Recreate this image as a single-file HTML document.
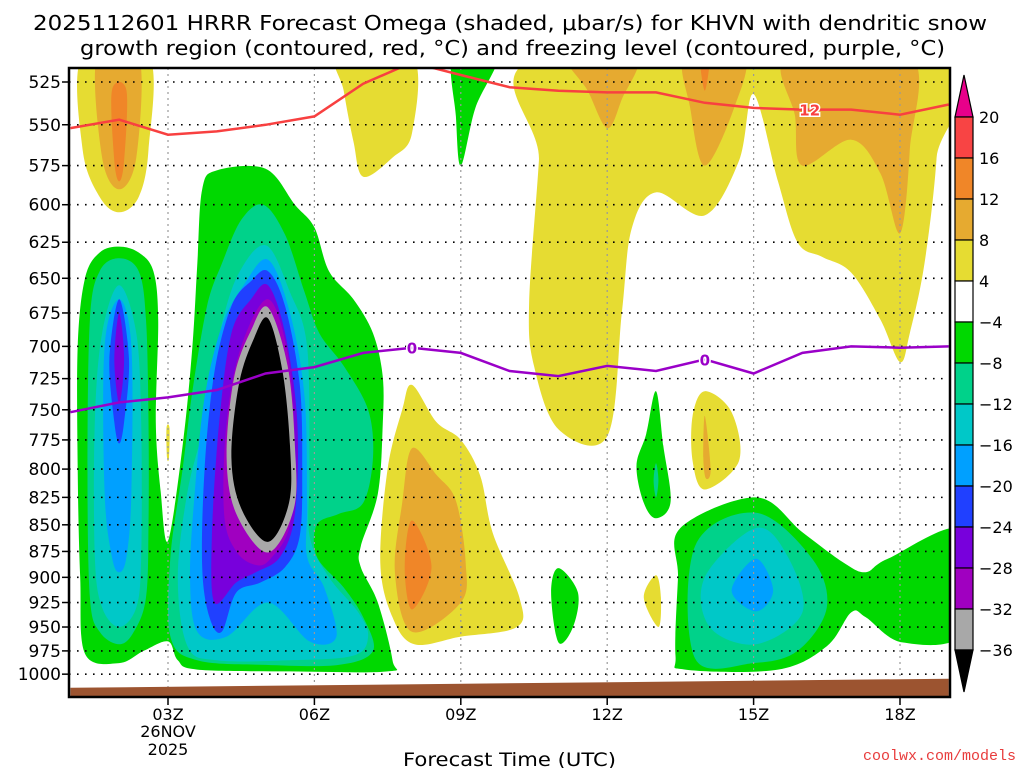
<!DOCTYPE html>
<html><head><meta charset="utf-8">
<style>
html,body{margin:0;padding:0;background:#fff;}
svg{display:block;font-family:"DejaVu Sans","Liberation Sans",sans-serif;}
</style></head>
<body>
<svg id="chart" width="1024" height="768" viewBox="0 0 1024 768">
<text x="33" y="30" textLength="954" lengthAdjust="spacingAndGlyphs" font-size="20" fill="#000">2025112601 HRRR Forecast Omega (shaded, μbar/s) for KHVN with dendritic snow</text>
<text x="80" y="55" textLength="865" lengthAdjust="spacingAndGlyphs" font-size="20" fill="#000">growth region (contoured, red, °C) and freezing level (contoured, purple, °C)</text>
<defs><clipPath id="plotclip"><rect x="69" y="68" width="881" height="629"/></clipPath></defs>
<g id="shading" clip-path="url(#plotclip)"></g>
<g id="grid"></g>
<g id="lines" clip-path="url(#plotclip)"></g>
<g id="axes"></g>
<g id="colorbar"></g>
<text x="403" y="766" textLength="213" lengthAdjust="spacingAndGlyphs" font-size="19" fill="#000">Forecast Time (UTC)</text>
<text x="1016" y="760" text-anchor="end" font-size="15" fill="#e83c3c" font-family="Liberation Mono, monospace">coolwx.com/models</text>
</svg>
<script>
// ---- axes data ----
const pressureTicks = [525,550,575,600,625,650,675,700,725,750,775,800,825,850,875,900,925,950,975,1000];
const timeTickHours = [3,6,9,12,15,18];
const timeTickLabels = ["03Z","06Z","09Z","12Z","15Z","18Z"];
const colorLevels = [20,16,12,8,4,-4,-8,-12,-16,-20,-24,-28,-32,-36];
const levelColors = ["#f84444","#f08628","#e6aa30","#e6dc32","#ffffff","#00d800","#00d28a","#00c8c8","#00a0ff","#2040ff","#7800dc","#a000c0","#a8a8a8"];
// ---- line data (hourly 01Z..19Z) ----
const lineHours = [1,2,3,4,5,6,7,8,9,10,11,12,13,14,15,16,17,18,19];
const dgzTop = [552,547,556,554,550,545,526,514,521,528,530,531,531,537,540,541,541,544,538];
const freezingLevel = [752,744,740,734,721,716,705,701,705,719,723,715,719,710,721,705,700,701,700];
const surfaceHours = [1,19];
const surfacePressure = [1015,1005];
// ---- shaded omega regions [hour, hPa] ----
const ylwTopLeft = [[1.25,510],[2.6,510],[2.6,565],[2.4,595],[2.0,605],[1.6,595],[1.25,565]];
const goldTopLeft = [[1.55,510],[2.4,510],[2.35,570],[2.0,590],[1.65,570]];
const orgTopLeft = [[1.85,530],[2.15,530],[2.1,572],[2.0,585],[1.9,572]];
const ylwTopMid = [[6.5,510],[8.0,510],[8.0,555],[7.6,570],[7.0,582],[6.8,560],[6.6,530]];
const grnSliver = [[8.85,510],[9.75,510],[9.3,540],[9.0,575],[8.9,545]];
const ylwRight = [[10.7,510],[18.8,510],[18.75,570],[18.5,640],[18.2,690],[18.0,712],[17.6,680],[17.0,646],[16.4,635],[15.9,625],[15.5,585],[15.0,532],[14.7,572],[14.0,607],[13.0,592],[12.5,616],[12.3,675],[12.0,772],[11.0,766],[10.5,715],[10.4,668],[10.6,572]];
const goldRight1 = [[11.2,510],[12.6,510],[12.3,535],[12.0,552],[11.6,530]];
const goldRight2 = [[13.6,510],[14.8,510],[14.6,540],[14.0,575],[13.7,540]];
const orgRight2 = [[13.9,510],[14.1,510],[14.0,530]];
const goldRight3 = [[15.7,510],[18.2,510],[18.2,565],[18.0,619],[17.6,580],[17.0,559],[16.0,575],[15.85,545]];
const ylwMid = [[8.0,730],[8.5,760],[9.0,775],[9.4,806],[9.65,857],[10.2,920],[10.15,950],[9.0,960],[8.05,968],[7.6,940],[7.35,886],[7.5,800],[7.8,750]];
const goldMid = [[8.0,782],[8.5,805],[8.9,828],[9.1,886],[9.0,925],[8.0,955],[7.65,895],[7.8,830]];
const orgMid = [[8.0,846],[8.4,890],[8.0,932],[7.85,890]];
const grnMain = [[2.0,628],[2.4,632],[2.7,645],[2.8,680],[2.75,760],[2.85,820],[3.0,865],[3.3,780],[3.5,700],[3.6,640],[3.7,590],[4.0,578],[5.0,577],[5.6,600],[6.0,615],[6.3,645],[6.8,665],[7.2,690],[7.4,723],[7.4,763],[7.3,822],[6.95,870],[6.95,890],[7.3,925],[7.6,985],[7.5,997],[5.5,997],[3.6,995],[3.2,985],[3.0,965],[2.5,975],[2.0,988],[1.3,978],[1.2,900],[1.15,800],[1.15,700],[1.3,650],[1.6,632]];
const tealLeft = [[2.0,636],[2.4,645],[2.55,680],[2.6,760],[2.6,850],[2.55,920],[2.3,955],[2.0,968],[1.6,955],[1.4,920],[1.35,800],[1.4,680],[1.6,645]];
const cyanLeft = [[2.0,655],[2.35,690],[2.45,760],[2.45,880],[2.35,930],[2.0,950],[1.65,930],[1.5,880],[1.5,760],[1.65,690]];
const blueLeft = [[2.0,665],[2.25,700],[2.25,820],[2.15,880],[2.0,895],[1.85,880],[1.7,820],[1.7,700]];
const dblueLeft = [[2.0,665],[2.2,710],[2.1,760],[2.0,778],[1.9,760],[1.8,710]];
const purpLeft = [[2.0,675],[2.1,710],[2.0,745],[1.9,710]];
const tealMain = [[4.95,600],[5.4,620],[5.8,660],[6.1,690],[6.6,715],[7.1,750],[7.2,790],[7.0,830],[6.5,840],[6.05,850],[6.05,880],[6.6,910],[7.0,940],[7.2,975],[6.5,990],[5.0,990],[3.6,985],[3.05,960],[3.05,880],[3.3,800],[3.5,735],[3.8,670],[4.1,640],[4.5,610]];
const cyanMain = [[5.0,627],[5.5,660],[5.85,700],[5.9,800],[5.9,860],[6.3,900],[6.9,935],[7.1,960],[6.8,980],[5.5,985],[4.0,985],[3.4,970],[3.2,900],[3.4,820],[3.75,760],[4.0,700],[4.4,650]];
const blueMain = [[5.05,637],[5.5,675],[5.8,740],[5.85,830],[5.85,880],[6.2,910],[6.45,960],[5.9,965],[5.05,925],[4.2,960],[3.6,955],[3.45,900],[3.55,820],[3.75,740],[4.1,685],[4.55,655]];
const dblueMain = [[5.05,645],[5.4,670],[5.7,730],[5.75,800],[5.7,860],[5.4,890],[4.9,905],[4.4,915],[4.1,955],[3.85,940],[3.7,890],[3.75,800],[3.95,720],[4.3,670],[4.7,652]];
const purpMain = [[5.05,655],[5.4,690],[5.65,760],[5.6,840],[5.3,880],[4.8,895],[4.4,905],[3.95,925],[3.9,860],[4.05,760],[4.3,690],[4.7,665]];
const magMain = [[5.05,665],[5.45,705],[5.6,780],[5.5,850],[5.1,882],[4.8,888],[4.4,875],[4.15,840],[4.2,760],[4.5,700]];
const grayMain = [[5.05,671],[5.45,715],[5.6,780],[5.58,835],[5.05,876],[4.4,840],[4.2,790],[4.35,725],[4.7,688]];
const blackMain = [[5.05,679],[5.35,720],[5.5,780],[5.48,830],[5.05,866],[4.5,835],[4.3,790],[4.45,730],[4.75,695]];
const ylwSpeck = [[2.97,765],[3.03,765],[3.02,790],[2.98,790]];
const grnSmall1 = [[13.0,735],[13.15,780],[13.3,829],[13.0,844],[12.75,830],[12.6,797],[12.8,770]];
const tealSmall1 = [[13.0,795],[13.05,810],[13.0,825],[12.95,810]];
const grnSmall2 = [[11.0,891],[11.4,915],[11.3,950],[11.0,966],[10.85,915]];
const ylwSmall1 = [[13.0,898],[13.1,920],[13.05,950],[12.75,920]];
const ylwSmall2 = [[14.0,735],[14.55,752],[14.7,793],[14.0,818],[13.75,793],[13.75,755]];
const goldSmall2 = [[14.0,755],[14.12,800],[14.02,808],[13.97,790]];
const grnRight = [[13.5,853],[15.05,825],[16.0,857],[16.85,886],[17.3,895],[17.75,882],[19.3,855],[19.3,955],[18.05,966],[17.3,940],[17.0,935],[16.5,970],[15.5,995],[13.6,995],[13.4,980],[13.45,900]];
const tealRight = [[15.05,839],[16.2,882],[16.5,930],[15.9,975],[15.0,988],[13.8,983],[13.8,870]];
const cyanRight = [[15.05,853],[15.7,880],[16.0,935],[15.05,968],[14.1,950],[14.0,900]];
const blueRight = [[15.05,882],[15.4,913],[15.05,934],[14.55,913]];
// order of drawing: [color index, shape, name]
const shapes = [
 [3,ylwTopLeft,"yellow-top-left"],[2,goldTopLeft,"gold-top-left"],[1,orgTopLeft,"orange-top-left"],
 [3,ylwTopMid,"yellow-top-mid"],[5,grnSliver,"green-sliver-top"],
 [3,ylwRight,"yellow-right-upper"],[2,goldRight1,"gold-right-1"],[2,goldRight2,"gold-right-2"],[1,orgRight2,"orange-right-2"],[2,goldRight3,"gold-right-3"],
 [3,ylwMid,"yellow-mid"],[2,goldMid,"gold-mid"],[1,orgMid,"orange-mid"],
 [5,grnMain,"green-main"],[6,tealLeft,"teal-left"],[7,cyanLeft,"cyan-left"],[8,blueLeft,"blue-left"],[9,dblueLeft,"darkblue-left"],[10,purpLeft,"purple-left"],
 [6,tealMain,"teal-main"],[7,cyanMain,"cyan-main"],[8,blueMain,"blue-main"],[9,dblueMain,"darkblue-main"],[10,purpMain,"purple-main"],[11,magMain,"magenta-main"],[12,grayMain,"gray-main"],[-1,blackMain,"black-core"],
 [3,ylwSpeck,"yellow-speck"],[5,grnSmall1,"green-small-1"],[6,tealSmall1,"teal-small-1"],[5,grnSmall2,"green-small-2"],[3,ylwSmall1,"yellow-small-1"],[3,ylwSmall2,"yellow-small-2"],[2,goldSmall2,"gold-small-2"],
 [5,grnRight,"green-right"],[6,tealRight,"teal-right"],[7,cyanRight,"cyan-right"],[8,blueRight,"blue-right"]
];

const NS="http://www.w3.org/2000/svg";
const X0=69,X1=950,Y0=68,Y1=697;
function xs(h){return 168+(h-3)*48.8;}
function ys(p){return 82+919*Math.log(p/525);}
function mk(tag,attrs,parent){const e=document.createElementNS(NS,tag);for(const k in attrs)e.setAttribute(k,attrs[k]);parent.appendChild(e);return e;}
function smoothClosed(pts){
  const P=pts.map(q=>[xs(q[0]),ys(q[1])]);const n=P.length;let d="M"+P[0][0].toFixed(1)+","+P[0][1].toFixed(1);
  for(let i=0;i<n;i++){const p0=P[(i-1+n)%n],p1=P[i],p2=P[(i+1)%n],p3=P[(i+2)%n];
    const c1=[p1[0]+(p2[0]-p0[0])/6,p1[1]+(p2[1]-p0[1])/6],c2=[p2[0]-(p3[0]-p1[0])/6,p2[1]-(p3[1]-p1[1])/6];
    d+="C"+c1[0].toFixed(1)+","+c1[1].toFixed(1)+" "+c2[0].toFixed(1)+","+c2[1].toFixed(1)+" "+p2[0].toFixed(1)+","+p2[1].toFixed(1);}
  return d+"Z";
}
const shading=document.getElementById('shading');
shapes.forEach(s=>{
  const el=mk('path',{d:smoothClosed(s[1]),fill:s[0]<0?"#000":levelColors[s[0]]},shading);
  
  
});
// grid
const grid=document.getElementById('grid');
pressureTicks.forEach(p=>{
  const el=mk('line',{x1:X0,x2:X1,y1:ys(p),y2:ys(p),stroke:"#000","stroke-width":1.6,"stroke-dasharray":"1.6 6.4"},grid);
  
  
});
timeTickHours.forEach(h=>{
  const el=mk('line',{x1:xs(h),x2:xs(h),y1:Y0,y2:Y1,stroke:"#999","stroke-width":1.2,"stroke-dasharray":"2 4"},grid);
  
  
});
// lines
const lines=document.getElementById('lines');
function linePath(vals){return lineHours.map((h,i)=>(i?"L":"M")+xs(h).toFixed(1)+","+ys(vals[i]).toFixed(1)).join("");}
const dgz=mk('path',{d:linePath(dgzTop),fill:"none",stroke:"#f84040","stroke-width":2.5},lines);


const frz=mk('path',{d:linePath(freezingLevel),fill:"none",stroke:"#9a00c8","stroke-width":2.5},lines);


function lineLabel(h,vals,txt,col,name){
  const i=lineHours.indexOf(Math.floor(h));const f=h-Math.floor(h);
  const p=vals[i]+(vals[i+1]-vals[i])*f;const x=xs(h),y=ys(p);
  const t=mk('text',{x:x,y:y+6,"text-anchor":"middle","font-size":15,"font-weight":"bold",fill:col,stroke:"#fff","stroke-width":3,"paint-order":"stroke"},lines);
  t.textContent=txt;
  
  
}
lineLabel(16.15,dgzTop,"12","#f84040","dgz-contour-label");
lineLabel(8.0,freezingLevel,"0","#9a00c8","freezing-label-1");
lineLabel(14.0,freezingLevel,"0","#9a00c8","freezing-label-2");
// ground
const gp=surfaceHours.map((h,i)=>xs(h).toFixed(1)+","+ys(surfacePressure[i]).toFixed(1)).join(" ");
const ground=mk('polygon',{points:gp+" "+xs(surfaceHours[1])+",710 "+xs(surfaceHours[0])+",710",fill:"#9c5430"},lines);


// axes
const axes=document.getElementById('axes');
mk('rect',{x:X0,y:Y0,width:X1-X0,height:Y1-Y0,fill:"none",stroke:"#000","stroke-width":2.5},axes);
pressureTicks.forEach(p=>{
  mk('line',{x1:X0-7,x2:X0,y1:ys(p),y2:ys(p),stroke:"#000","stroke-width":1.5},axes);
  const t=mk('text',{x:X0-8,y:ys(p)+6,"text-anchor":"end","font-size":17,fill:"#000"},axes);
  t.textContent=p;
  
  
});
timeTickHours.forEach((h,i)=>{
  mk('line',{x1:xs(h),x2:xs(h),y1:Y1,y2:Y1+8,stroke:"#000","stroke-width":1.5},axes);
  const t=mk('text',{x:xs(h),y:720,"text-anchor":"middle","font-size":16,fill:"#000"},axes);
  t.textContent=timeTickLabels[i];
  
  
});
[["26NOV",737],["2025",755]].forEach(a=>{
  const t=mk('text',{x:xs(3),y:a[1],"text-anchor":"middle","font-size":16,fill:"#000"},axes);
  t.textContent=a[0];
  
  
});
// colorbar
const cb=document.getElementById('colorbar');
const CB0=955,CBW=18,CBT=117,STEP=41;
const tri1=mk('polygon',{points:`${CB0},${CBT} ${CB0+CBW},${CBT} ${CB0+CBW/2},${CBT-42}`,fill:"#e8008a",stroke:"#000","stroke-width":1.2},cb);


levelColors.forEach((c,i)=>{
  const r=mk('rect',{x:CB0,y:CBT+i*STEP,width:CBW,height:STEP,fill:c,stroke:"#000","stroke-width":1.2},cb);
  
  
});
const bot=CBT+levelColors.length*STEP;
const tri2=mk('polygon',{points:`${CB0},${bot} ${CB0+CBW},${bot} ${CB0+CBW/2},${bot+42}`,fill:"#000",stroke:"#000","stroke-width":1.2},cb);


colorLevels.forEach((v,i)=>{
  const t=mk('text',{x:CB0+CBW+6,y:CBT+i*STEP+6,"font-size":16,fill:"#000"},cb);
  t.textContent=v<0?"\u2212"+(-v):String(v);
  
  
});
</script>
</body></html>
